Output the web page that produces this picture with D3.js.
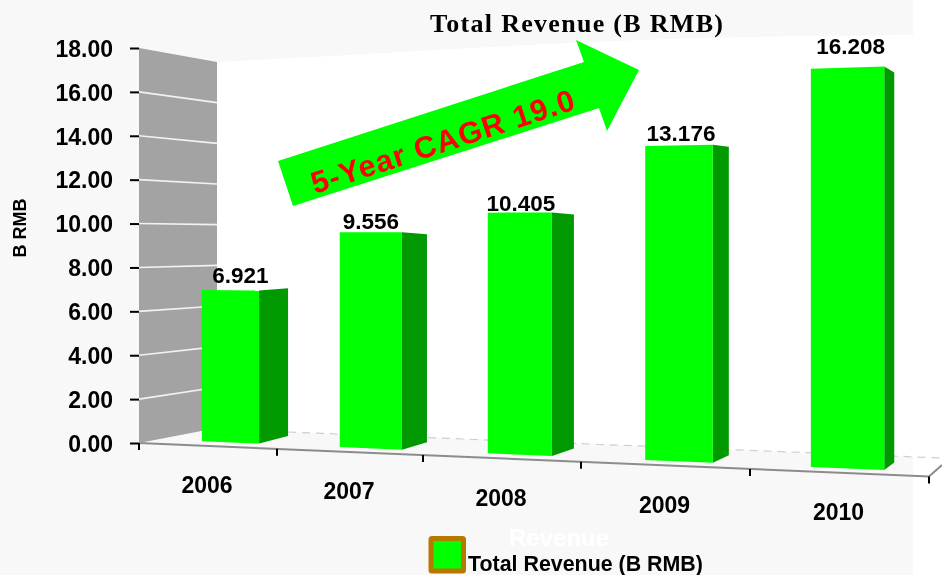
<!DOCTYPE html>
<html><head><meta charset="utf-8">
<script src="https://cdn.jsdelivr.net/npm/d3@7"></script>
<style>html,body{margin:0;padding:0;background:#fff}svg{display:block}
text{font-family:"Liberation Sans",Arial,sans-serif;font-weight:bold;fill:#000}</style></head><body>
<script>
const years = ["2006","2007","2008","2009","2010"];
const revenue = [6.921, 9.556, 10.405, 13.176, 16.208];
const yTicks = [0,2,4,6,8,10,12,14,16,18];
const chartTitle = "Total Revenue (B RMB)";
const yTitle = "B RMB";
const arrowLabel = "5-Year CAGR 19.0";
const ghostLabel = "Revenue";

const W = 942, H = 575;
const GREEN = "#00ff00", DARK = "#009900", WALL = "#a3a3a3", BG = "#f8f8f8";

const svg = d3.select("body").append("svg").attr("width",W).attr("height",H);
const defs = svg.append("defs");
defs.append("filter").attr("id","soft").append("feGaussianBlur").attr("stdDeviation",0.45);
const root = svg.append("g").attr("filter","url(#soft)");

// perspective scales
const yFront = d3.scaleLinear().domain([0,18]).range([443,48]);      // wall front edge
const yBack  = d3.scaleLinear().domain([0,18]).range([428,62]);      // wall back edge
const idx = [0,1,2,3,4];
const xSlot  = d3.scaleLinear().domain([0,1,2,3,4,5]).range([139,277,423,581,750,929]);
const ground = d3.scaleLinear().domain([139,929]).range([443,476.5]);
const unit   = d3.scaleLinear().domain([139,929]).range([21.57,25.1]);
const fracL  = d3.scaleLinear().domain(idx).range([.456,.43,.41,.38,.34]);
const fracR  = d3.scaleLinear().domain(idx).range([.87,.856,.816,.78,.75]);
const depthX = d3.scaleLinear().domain(idx).range([29,25,22,16,10]);
const topRise= d3.scaleLinear().domain([0,1,3,4]).range([-2.4,2,2,6]);
const nudgeX = d3.scaleLinear().domain([0,1,4]).range([10,0,3]);
const nudgeY = d3.scaleLinear().domain(idx).range([7,3,1.5,4,13]);
const base = x => ground(x) - 4.5;
const line = d3.line();

// backdrop
root.append("rect").attr("width",W).attr("height",H).attr("fill","#fff");
root.append("rect").attr("width",913).attr("height",H).attr("fill",BG);
const topEdge = d3.line().curve(d3.curveMonotoneX)([[217,62],[350,55],[471,48],[640,40],[913,35]]);
root.append("path").attr("fill","#fff")
  .attr("d", topEdge + "L942,35L942,458L290,432L217,428Z");
root.append("rect").attr("x",913).attr("y",30).attr("width",29).attr("height",H-30).attr("fill","#fff");

// floor
root.append("path").attr("fill","none").attr("stroke","#cfcfcf").attr("stroke-width",1.2)
  .attr("stroke-dasharray","8 6").attr("d",line([[288,432],[942,458]]));
root.append("path").attr("fill","none").attr("stroke","#8c8c8c").attr("stroke-width",2)
  .attr("d",line([[xSlot(0),ground(xSlot(0))],[xSlot(5),ground(xSlot(5))],[942,465]]));

// wall
root.append("path").attr("fill",WALL).attr("d",line([
  [139,yFront(18)],[217,yBack(18)],[217,yBack(0)],[139,yFront(0)]])+"Z");
root.selectAll("path.grid").data(yTicks.filter(d=>d>0&&d<18)).join("path")
  .attr("class","grid").attr("fill","none").attr("stroke","#f2f2f2").attr("stroke-width",1.6)
  .attr("d",d=>line([[139,yFront(d)],[217,yBack(d)]]));

// y axis
const yAxis = root.append("g").attr("transform","translate(139,0)")
  .call(d3.axisLeft(yFront).tickValues(yTicks).tickFormat(d3.format(".2f")).tickSize(9).tickPadding(17));
yAxis.select(".domain").remove();
yAxis.selectAll("line").attr("stroke","#000").attr("stroke-width",2);
yAxis.selectAll("text").attr("font-size",23).attr("dy",".36em");

// x ticks
root.selectAll("line.xt").data(d3.range(6)).join("line").attr("class","xt")
  .attr("x1",xSlot).attr("x2",xSlot)
  .attr("y1",d=>ground(xSlot(d))).attr("y2",d=>ground(xSlot(d))+7)
  .attr("stroke","#000").attr("stroke-width",2);

// bars
const bars = years.map((y,i)=>{
  const l = xSlot(i)+fracL(i)*(xSlot(i+1)-xSlot(i));
  const r = xSlot(i)+fracR(i)*(xSlot(i+1)-xSlot(i));
  const bk = r+depthX(i);
  const hL = revenue[i]*unit(l), hR = revenue[i]*unit(r);
  return {y,i,v:revenue[i],l,r,bk,bl:base(l),br:base(r),tl:base(l)-hL,tr:base(r)-hR};
});
const gb = root.selectAll("g.bar").data(bars).join("g").attr("class","bar");
gb.append("path").attr("fill",DARK).attr("d",d=>line([
  [d.r,d.tr],[d.bk,d.tr+topRise(d.i)],[d.bk,d.br-7.5],[d.r,d.br]])+"Z");
gb.append("path").attr("fill",GREEN).attr("d",d=>line([
  [d.l,d.tl],[d.r,d.tr],[d.r,d.br],[d.l,d.bl]])+"Z");
gb.append("text").attr("font-size",22.5).attr("text-anchor","middle")
  .attr("x",d=>(d.l+d.r)/2+nudgeX(d.i))
  .attr("y",d=>Math.min(d.tl,d.tr)-nudgeY(d.i))
  .text(d=>d.v.toFixed(3));

// category labels
root.selectAll("text.cat").data(years).join("text").attr("class","cat")
  .attr("font-size",23).attr("text-anchor","middle")
  .attr("x",(d,i)=>(xSlot(i)+xSlot(i+1))/2-1)
  .attr("y",(d,i)=>ground((xSlot(i)+xSlot(i+1))/2)+47.5)
  .text(d=>d);

// y title
root.append("text").attr("font-size",18).attr("text-anchor","middle")
  .attr("transform","translate(26,228) rotate(-90)").text(yTitle);

// title
root.append("text").attr("x",430).attr("y",32).attr("font-size",26)
  .attr("textLength",293).attr("lengthAdjust","spacing")
  .style("font-family","'Liberation Serif',serif").text(chartTitle);

// arrow
root.append("path").attr("fill",GREEN).attr("d",line([
  [278,161],[584,62],[576,40],[639,70],[607,131],[599,108],[293,206]])+"Z");
root.append("text").attr("transform","translate(315,194) rotate(-18)")
  .attr("font-size",30.5).attr("textLength",275).attr("lengthAdjust","spacing")
  .style("fill","#ff0000").text(arrowLabel);

// legend
root.append("text").attr("x",509).attr("y",546).attr("font-size",24).style("fill","#ffffff").text(ghostLabel);
root.append("rect").attr("x",431).attr("y",538.5).attr("width",32.5).attr("height",32.5)
  .attr("rx",1).attr("fill",GREEN).attr("stroke","#b87800").attr("stroke-width",5);
root.append("text").attr("x",468).attr("y",571).attr("font-size",21.4).text(chartTitle);
</script></body></html>
